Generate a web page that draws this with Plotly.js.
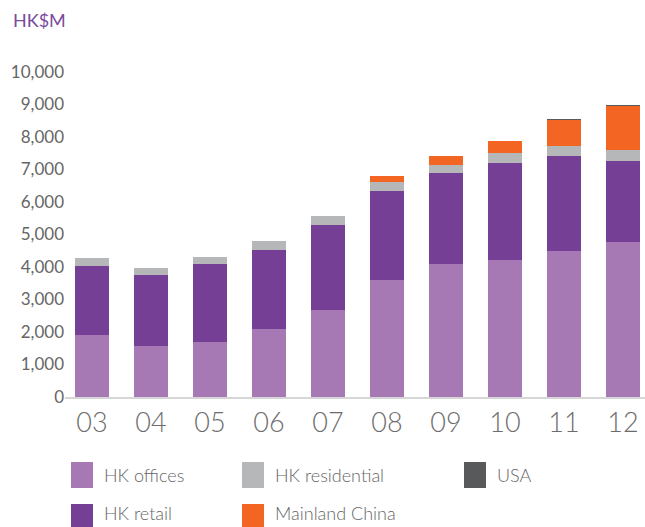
<!DOCTYPE html>
<html>
<head>
<meta charset="utf-8">
<script src="https://cdn.plot.ly/plotly-3.0.1.min.js"></script>
<style>html,body{margin:0;padding:0;background:#fff;}#chart{width:645px;height:527px;}</style>
</head>
<body>
<div id="chart"></div>
<script>
var years = ["03","04","05","06","07","08","09","10","11","12"];
var hkOffices = [1910,1570,1690,2090,2680,3600,4090,4220,4490,4770];
var hkRetail = [2120,2180,2400,2430,2610,2740,2800,2980,2920,2500];
var hkResidential = [250,220,220,280,280,280,250,310,310,330];
var mainlandChina = [0,0,0,0,0,180,280,370,810,1350];
var usa = [0,0,0,0,0,0,0,0,30,35];

var seriesNames = ["HK offices","HK retail","HK residential","Mainland China","USA"];
var seriesColors = ["#a678b4","#763f96","#b6b7b9","#f26522","#58595b"];
var seriesValues = [hkOffices,hkRetail,hkResidential,mainlandChina,usa];

var W = 645, H = 527, ML = 65, MR = 0, MT = 72, MB = 130;
function px(x){ return (x-ML)/(W-ML-MR); }
function py(y){ return (H-MB-y)/(H-MT-MB); }

var traces = seriesNames.map(function(n,i){
  return {type:'bar', x:years, y:seriesValues[i], name:n,
          marker:{color:seriesColors[i], line:{width:0}}, showlegend:false, hoverinfo:'skip'};
});

// custom legend layout: columns of entries (swatch top-left, text centre y)
var legendPos = [[71,462,475],[71,504,513],[242,462,475],[242,504,513],[464,462,475]];
var shapes = [], annotations = [];
seriesNames.forEach(function(n,i){
  var p = legendPos[i];
  shapes.push({type:'rect', xref:'paper', yref:'paper', x0:px(p[0]), x1:px(p[0]+22),
               y0:py(p[1]), y1:py(p[1]+26), fillcolor:seriesColors[i], line:{width:0}, layer:'above'});
  annotations.push({xref:'paper', yref:'paper', x:px(p[0]+31), y:py(p[2]), xanchor:'left', yanchor:'middle',
                    text:n, showarrow:false, font:{family:'Lato, sans-serif', size:18, color:'#666666', weight:300}});
});
annotations.push({xref:'paper', yref:'paper', x:px(11), y:py(20), xanchor:'left', yanchor:'middle',
                  text:'HK$M', showarrow:false, font:{family:'Lato, sans-serif', size:18, color:'#7b4a9e'}});

var layout = {
  width:W, height:H, margin:{l:ML, r:MR, t:MT, b:MB, pad:0},
  paper_bgcolor:'#ffffff', plot_bgcolor:'#ffffff',
  barmode:'stack', bargap:0.424,
  font:{family:'Lato, sans-serif', color:'#666666'},
  xaxis:{type:'category', range:[-0.458, 9.373], showline:true, linecolor:'#d6d6d6', linewidth:2,
         showgrid:false, zeroline:false, ticks:'', tickfont:{size:27, color:'#6d6d6d', weight:300}, ticklabelstandoff:1},
  yaxis:{range:[0,10000], dtick:1000, tickformat:',d', showgrid:false, zeroline:false, showline:false,
         ticks:'', tickfont:{size:17, color:'#666666'}, ticklabelstandoff:0},
  shapes:shapes, annotations:annotations
};
Plotly.newPlot('chart', traces, layout, {staticPlot:true, displayModeBar:false});
</script>
</body>
</html>
